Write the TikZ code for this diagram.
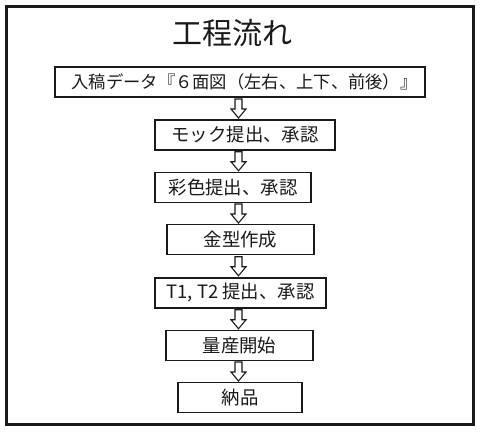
\documentclass[tikz,border=0pt]{standalone}
\usepackage{fontspec}
\setmainfont{Noto Sans CJK JP}
\usetikzlibrary{calc,positioning}
\definecolor{pfInk}{HTML}{1A1A1A}
\tikzset{
 plan/.style={line join=miter,text=pfInk,x=1bp,y=-1bp},
 frame/.style={draw=pfInk,line width=3bp},
 title/.style={font=\fontsize{30bp}{34bp}\selectfont,inner sep=0pt},
 stepbox/.style={rectangle,draw=pfInk,line width=1.4bp,fill=white,inner sep=0pt,
   minimum height=30bp,font=\fontsize{18.4bp}{20bp}\selectfont},
 hollow/.style={draw=pfInk,line width=1.1bp,fill=white,line join=miter}
}
\newcommand{\flowArrow}[2]{%
 \coordinate (mid) at ($(#1.south)!.5!(#2.north)$);
 \begin{scope}[shift={(mid -| axis)}]
 \draw[hollow] (-3.5,-9.5)--(-3.5,0.5)--(-7.5,0.5)--(0,9.5)--(7.5,0.5)
   --(3.5,0.5)--(3.5,-9.5)--cycle;
 \end{scope}}

\begin{document}
\begin{tikzpicture}[plan]
 \useasboundingbox (0,0) rectangle (480,431);
 \draw[frame] (6,6.5) rectangle (473.5,424);
 \coordinate (axis) at (238.5,0);
 \node[title] (ttl) at (232,33) {工程流れ};
 % process steps
 \node[stepbox,minimum width=370bp,font=\fontsize{17.3bp}{20bp}\selectfont] (s1) at (240,82) {入稿データ『６面図（左右、上下、前後）』\kern-9bp};
 \node[stepbox,minimum width=180bp] (s2) at (245,135) {モック提出、承認};
 \node[stepbox,minimum width=156bp] (s3) at (233,187.5) {彩色提出、承認};
 \node[stepbox,minimum width=147bp] (s4) at (240.5,239.5) {金型作成};
 \node[stepbox,minimum width=171bp] (s5) at (240.5,293) {T1, T2 提出、承認};
 \node[stepbox,minimum width=147bp] (s6) at (239.5,345.5) {量産開始};
 \node[stepbox,minimum width=124bp] (s7) at (240,397.5) {納品};
 % arrows between steps
 \flowArrow{s1}{s2}
 \flowArrow{s2}{s3}
 \flowArrow{s3}{s4}
 \flowArrow{s4}{s5}
 \flowArrow{s5}{s6}
 \flowArrow{s6}{s7}
\end{tikzpicture}
\end{document}
